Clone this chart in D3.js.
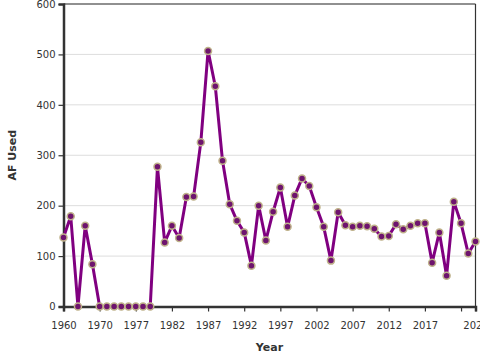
<!DOCTYPE html>
<html>
<head>
<meta charset="utf-8">
<script src="https://cdn.jsdelivr.net/npm/d3@7"></script>
<style>
body { margin: 0; background: #fff; }
svg { display: block; font-family: "DejaVu Sans", Verdana, sans-serif; }
</style>
</head>
<body>
<svg id="chart" width="480" height="360"></svg>
<script>
const years = [1960,1961,1962,1963,1964,1970,1971,1972,1973,1974,
  1977,1978,1979,1980,1981,1982,1983,1984,1985,1986,1987,1988,1989,1990,
  1991,1992,1993,1994,1995,1996,1997,1998,1999,2000,2001,2002,2003,2004,
  2005,2006,2007,2008,2009,2010,2011,2012,2013,2014,2015,2016,2017,2018,
  2019,2020,2021,2022,2023,2024];
const afUsed = [137,179,0,160,84,0,0,0,0,0,
  0,0,0,277,127,160,136,217,218,326,507,437,289,203,
  170,147,81,200,131,188,236,158,220,254,239,197,158,91,
  187,161,158,160,159,154,139,140,163,153,160,165,165,87,
  147,61,208,165,105,129];
const yTicks = [0,100,200,300,400,500,600];
const xTickYears = [1960,1970,1977,1982,1987,1992,1997,2002,2007,2012,2017,2022,2024];
const xLabelHidden = [2022];

const svg = d3.select("#chart");
const m = {left: 63.5, right: 475.5, top: 4, bottom: 306.5};

const x = d3.scalePoint().domain(years).range([m.left, m.right]).padding(0);
const y = d3.scaleLinear().domain([0, 600]).range([m.bottom, m.top]);

// grid
svg.append("g").selectAll("line").data(yTicks.filter(d => d > 0)).join("line")
  .attr("x1", m.left).attr("x2", m.right)
  .attr("y1", d => y(d)).attr("y2", d => y(d))
  .attr("stroke", "#ddd").attr("stroke-width", 1);

// frame top / right
svg.append("line").attr("x1", m.left).attr("x2", m.right).attr("y1", m.top).attr("y2", m.top)
  .attr("stroke", "#333").attr("stroke-width", 1.2);
svg.append("line").attr("x1", m.right).attr("x2", m.right).attr("y1", m.top).attr("y2", m.bottom)
  .attr("stroke", "#333").attr("stroke-width", 1.2);

// axes
const yAxis = svg.append("g").attr("transform", `translate(${m.left},0)`)
  .call(d3.axisLeft(y).tickValues(yTicks).tickSize(5).tickPadding(3));
const xAxis = svg.append("g").attr("transform", `translate(0,${m.bottom})`)
  .call(d3.axisBottom(x).tickValues(xTickYears).tickSize(5).tickPadding(10)
    .tickFormat(d => xLabelHidden.includes(d) ? "" : String(d)));
[yAxis, xAxis].forEach(g => {
  g.select(".domain").attr("stroke", "#333").attr("stroke-width", 2.5);
  g.selectAll(".tick line").attr("stroke", "#333").attr("stroke-width", 1.2);
  g.selectAll(".tick text").attr("fill", "#333").style("font-size", "10px")
    .style("font-family", "DejaVu Sans, sans-serif");
});

// line
svg.append("path").datum(years.map((yr, i) => [yr, afUsed[i]]))
  .attr("fill", "none").attr("stroke", "#800080").attr("stroke-width", 3)
  .attr("stroke-linejoin", "round")
  .attr("d", d3.line().x(d => x(d[0])).y(d => y(d[1])));

// points
svg.append("g").selectAll("circle").data(years.map((yr, i) => [yr, afUsed[i]])).join("circle")
  .attr("cx", d => x(d[0])).attr("cy", d => y(d[1])).attr("r", 3.5)
  .attr("fill", "#6e146e").attr("stroke", "#bfb28a").attr("stroke-width", 1.5);

// titles
svg.append("text").attr("x", (m.left + m.right) / 2).attr("y", 351)
  .attr("text-anchor", "middle").style("font-size", "11px").style("font-weight", "bold")
  .attr("fill", "#333").text("Year");
svg.append("text").attr("transform", `translate(15.5,${(m.top + m.bottom) / 2}) rotate(-90)`)
  .attr("text-anchor", "middle").style("font-size", "11px").style("font-weight", "bold")
  .attr("fill", "#333").text("AF Used");
</script>
</body>
</html>
